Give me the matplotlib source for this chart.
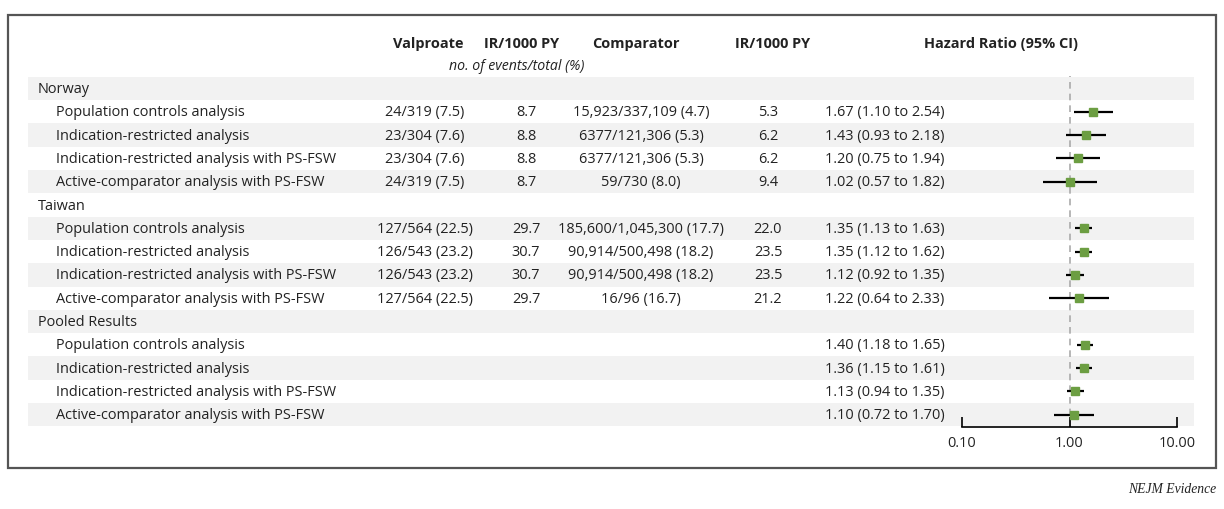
import matplotlib.pyplot as plt
from matplotlib.patches import Rectangle
from matplotlib.ticker import FixedLocator, FixedFormatter

# ---- data ----
groups = ["Norway", "Taiwan", "Pooled Results"]
analyses = ["Population controls analysis",
            "Indication-restricted analysis",
            "Indication-restricted analysis with PS-FSW",
            "Active-comparator analysis with PS-FSW"]

valproate = ["24/319 (7.5)", "23/304 (7.6)", "23/304 (7.6)", "24/319 (7.5)",
             "127/564 (22.5)", "126/543 (23.2)", "126/543 (23.2)", "127/564 (22.5)",
             "", "", "", ""]
ir_valproate = ["8.7", "8.8", "8.8", "8.7",
                "29.7", "30.7", "30.7", "29.7",
                "", "", "", ""]
comparator = ["15,923/337,109 (4.7)", "6377/121,306 (5.3)", "6377/121,306 (5.3)", "59/730 (8.0)",
              "185,600/1,045,300 (17.7)", "90,914/500,498 (18.2)", "90,914/500,498 (18.2)", "16/96 (16.7)",
              "", "", "", ""]
ir_comparator = ["5.3", "6.2", "6.2", "9.4",
                 "22.0", "23.5", "23.5", "21.2",
                 "", "", "", ""]
hr = [1.67, 1.43, 1.20, 1.02, 1.35, 1.35, 1.12, 1.22, 1.40, 1.36, 1.13, 1.10]
lo = [1.10, 0.93, 0.75, 0.57, 1.13, 1.12, 0.92, 0.64, 1.18, 1.15, 0.94, 0.72]
hi = [2.54, 2.18, 1.94, 1.82, 1.63, 1.62, 1.35, 2.33, 1.65, 1.61, 1.35, 1.70]
xticks = [0.1, 1.0, 10.0]
xtick_labels = ["0.10", "1.00", "10.00"]

# ---- layout (pixels of a 1224x510 figure) ----
W, H = 1224, 510
ROW0, STEP = 89.5, 23.3
FONT = "Open Sans"
FS = 10.45
GREEN = "#6c9e42"

plt.rcParams["font.family"] = [FONT, "DejaVu Sans"]
fig = plt.figure(figsize=(W / 100, H / 100), dpi=100)

def row_of(px):
    return (px - ROW0) / STEP

ax = fig.add_axes([0, 0, 1, 1])
ax.set_xlim(0, W)
ax.set_ylim(row_of(H), row_of(0))
ax.axis("off")

# build the row list
rows = []
k = 0
for g in groups:
    rows.append(("group", g, None))
    for a in analyses:
        rows.append(("item", a, k))
        k += 1

# stripes
for i in range(len(rows)):
    if i % 2 == 0:
        ax.add_patch(Rectangle((28, i - 0.5), 1194 - 28, 1, facecolor="#f2f2f2",
                               edgecolor="none", zorder=0))

# column headers
hy = row_of(44)
hdr = dict(fontsize=FS, fontweight="bold", va="center", ha="center", color="#222222")
ax.text(428, hy, "Valproate", **hdr)
ax.text(522, hy, "IR/1000 PY", **hdr)
ax.text(636, hy, "Comparator", **hdr)
ax.text(773, hy, "IR/1000 PY", **hdr)
ax.text(1001, hy, "Hazard Ratio (95% CI)", **hdr)
ax.text(517, row_of(67), "no. of events/total (%)", fontsize=FS - 0.3, style="italic",
        va="center", ha="center", color="#222222")

txt = dict(fontsize=FS, va="center", color="#222222")
for i, (kind, label, j) in enumerate(rows):
    if kind == "group":
        ax.text(38, i, label, ha="left", **txt)
        continue
    ax.text(56, i, label, ha="left", **txt)
    ax.text(425, i, valproate[j], ha="center", **txt)
    ax.text(526, i, ir_valproate[j], ha="center", **txt)
    ax.text(641, i, comparator[j], ha="center", **txt)
    ax.text(768, i, ir_comparator[j], ha="center", **txt)
    ax.text(825, i, "{:.2f} ({:.2f} to {:.2f})".format(hr[j], lo[j], hi[j]), ha="left", **txt)

# frame and credit
ax.add_patch(Rectangle((8, row_of(16)), 1216 - 8, row_of(469) - row_of(16),
                       facecolor="none", edgecolor="#555555", lw=1.6, zorder=5))
ax.text(1216, row_of(490), "NEJM Evidence", ha="right", va="center", fontsize=9.8,
        style="italic", family="Liberation Serif", color="#222222")

# forest plot
x0, x1 = 962, 1177
ytop, ybot = 77, 428
fx = fig.add_axes([x0 / W, (H - ybot) / H, (x1 - x0) / W, (ybot - ytop) / H])
fx.set_facecolor("none")
fx.set_xscale("log")
fx.set_xlim(0.1, 10)
fx.set_ylim(row_of(ybot), row_of(ytop))
for s in ["top", "left", "right"]:
    fx.spines[s].set_visible(False)
fx.spines["bottom"].set_linewidth(1.2)
fx.set_yticks([])
fx.xaxis.set_major_locator(FixedLocator(xticks))
fx.xaxis.set_major_formatter(FixedFormatter(xtick_labels))
fx.xaxis.set_minor_locator(FixedLocator([]))
fx.tick_params(axis="x", direction="in", length=7, width=1.2, pad=6,
               labelsize=FS, labelcolor="#222222")
fx.axvline(1.0, color="#aaaaaa", lw=1.2, ls=(0, (4, 3)), zorder=1)

ys = [i for i, r in enumerate(rows) if r[0] == "item"]
for y, h, l, u in zip(ys, hr, lo, hi):
    fx.plot([l, u], [y, y], color="black", lw=1.6, zorder=2, solid_capstyle="butt")
fx.plot(hr, ys, ls="none", marker="s", markersize=6, color=GREEN, zorder=3)

fig.savefig("out.png", dpi=100)
